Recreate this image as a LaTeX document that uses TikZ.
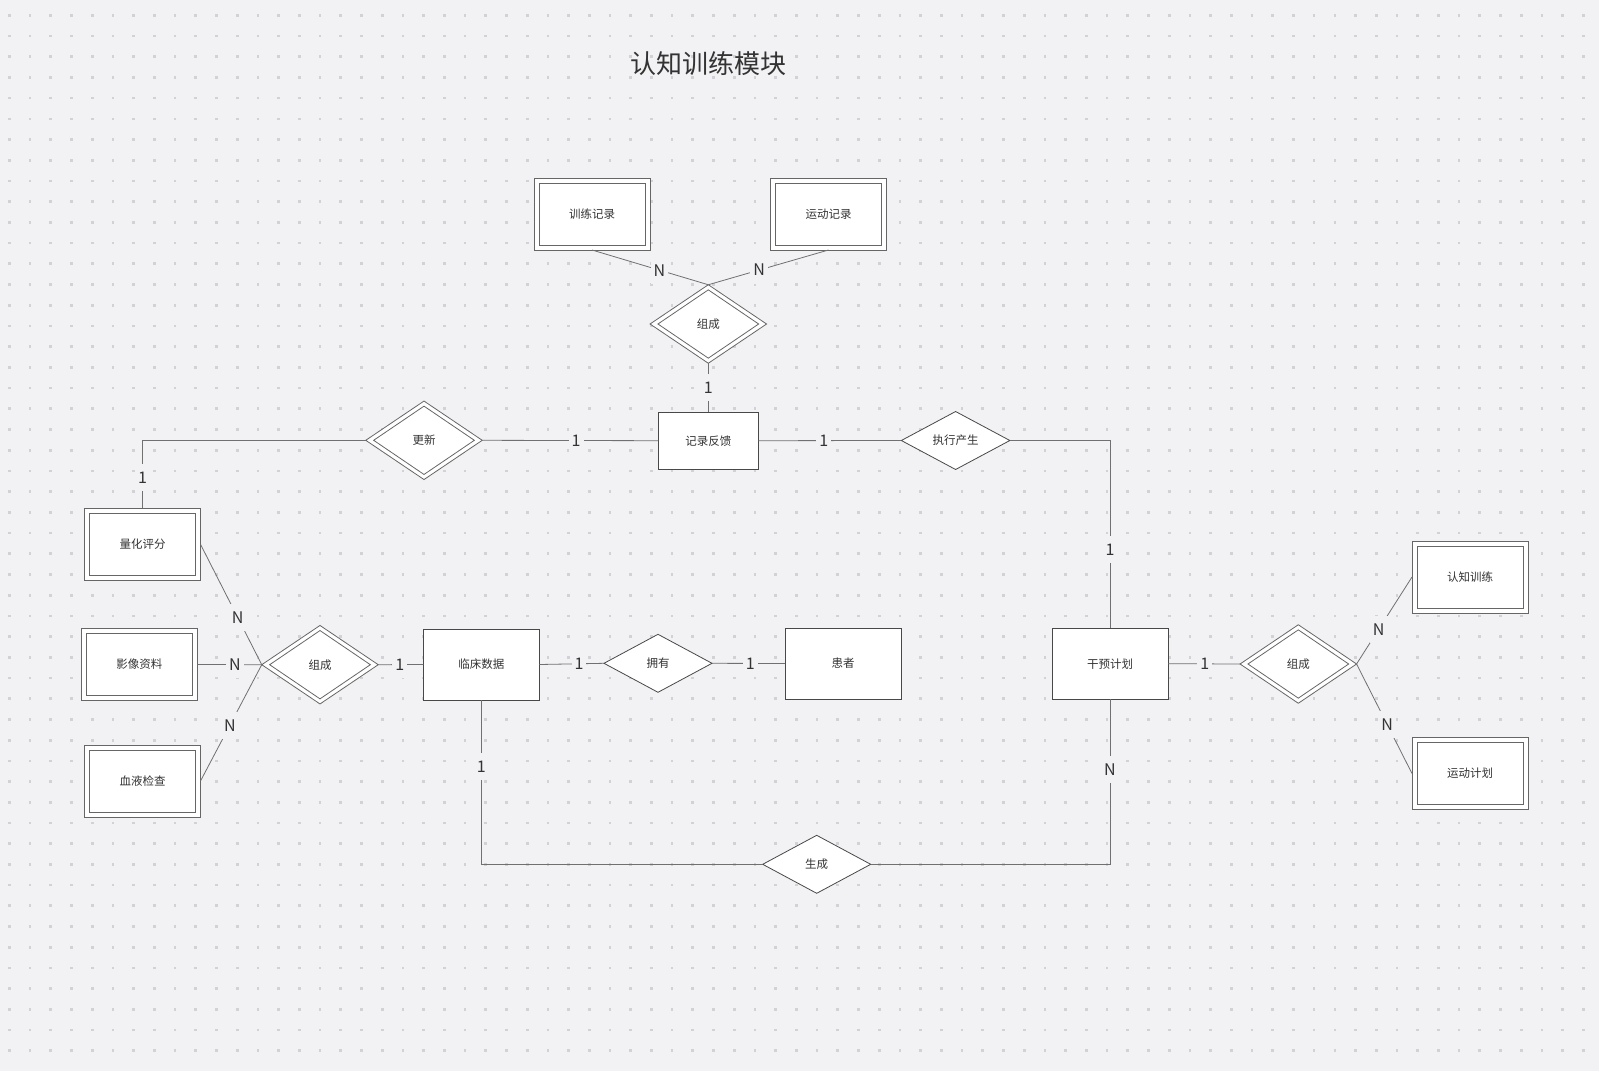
\documentclass[tikz,border=0pt]{standalone}
\usepackage{fontspec}
\setmainfont{Noto Sans CJK SC}
\usetikzlibrary{shapes.geometric}
\definecolor{bgc}{HTML}{F2F2F4}
\definecolor{dotc}{HTML}{D2D2D6}
\definecolor{linec}{HTML}{707070}
\definecolor{boxc}{HTML}{484848}
\definecolor{wboxc}{HTML}{666666}
\definecolor{txtc}{HTML}{333333}
\tikzset{
  nodefont/.style={font=\fontsize{11.5}{14}\selectfont, text=txtc},
  ent/.style={rectangle, draw=boxc, fill=white, line width=0.9pt, minimum width=116pt, minimum height=71pt, inner sep=0pt, outer sep=0pt, nodefont},
  wentout/.style={rectangle, draw=wboxc, fill=white, line width=0.8pt, minimum width=116pt, minimum height=72pt, inner sep=0pt, outer sep=0pt},
  wentin/.style={rectangle, draw=wboxc, fill=white, line width=0.8pt, minimum width=106pt, minimum height=62pt, inner sep=0pt, outer sep=0pt, nodefont},
  rel/.style={diamond, draw=boxc, fill=white, line width=0.8pt, minimum width=108pt, minimum height=58pt, inner sep=0pt, outer sep=0pt, aspect=1.8, nodefont},
  wrelout/.style={diamond, draw=wboxc, fill=white, line width=0.8pt, minimum width=116.5pt, minimum height=78.5pt, inner sep=0pt, outer sep=0pt, aspect=1.5},
  wrelin/.style={diamond, draw=wboxc, fill=white, line width=0.8pt, minimum width=100.7pt, minimum height=68.3pt, inner sep=0pt, outer sep=0pt, aspect=1.5, nodefont},
  conn/.style={draw=linec, line width=0.8pt},
  lab/.style={fill=bgc, inner xsep=3pt, inner ysep=0pt, minimum height=27pt, font=\fontsize{16}{18}\selectfont, text=txtc},
}
\begin{document}
\begin{tikzpicture}[x=1pt, y=-1pt]
\useasboundingbox (0,0) rectangle (1599,1071);
\fill[bgc] (0,0) rectangle (1599,1071);
\foreach \i in {0,...,76} {
  \foreach \j in {0,...,50} {
    \fill[dotc] (8.05+20.71*\i, 13.95+20.71*\j) rectangle +(2.7,2.7);
  }
}
% title
\node[font=\fontsize{26}{30}\selectfont, text=txtc] (title) at (708.3,64) {认知训练模块};

% entities and relationships
\node[wentout] (trec) at (592,214) {};
\node[wentin] (trec-in) at (592,214) {训练记录};
\node[wentout] (mrec) at (828.5,214) {};
\node[wentin] (mrec-in) at (828.5,214) {运动记录};
\node[wrelout] (comp1) at (708.3,324) {};
\node[wrelin] (comp1-in) at (708.3,324) {组成};
\node[ent, minimum width=100pt, minimum height=57pt] (fb) at (708.3,440.7) {记录反馈};
\node[wrelout] (upd) at (424,440.3) {};
\node[wrelin] (upd-in) at (424,440.3) {更新};
\node[rel, minimum width=108.5pt, minimum height=58pt] (exe) at (955.6,440.5) {执行产生};

\node[wentout] (qs) at (142.5,544.3) {};
\node[wentin] (qs-in) at (142.5,544.3) {量化评分};
\node[wentout] (img) at (139.3,664.5) {};
\node[wentin] (img-in) at (139.3,664.5) {影像资料};
\node[wentout] (blood) at (142.5,781) {};
\node[wentin] (blood-in) at (142.5,781) {血液检查};
\node[wrelout] (comp2) at (320,664.7) {};
\node[wrelin] (comp2-in) at (320,664.7) {组成};
\node[ent] (clin) at (481.3,664.5) {临床数据};
\node[rel] (own) at (658,663.3) {拥有};
\node[ent] (pat) at (843,663.5) {患者};
\node[ent] (plan) at (1110,663.7) {干预计划};
\node[wrelout] (comp3) at (1298.3,664) {};
\node[wrelin] (comp3-in) at (1298.3,664) {组成};
\node[wentout] (cog) at (1470,577) {};
\node[wentin] (cog-in) at (1470,577) {认知训练};
\node[wentout] (mplan) at (1470,773.5) {};
\node[wentin] (mplan-in) at (1470,773.5) {运动计划};
\node[rel] (gen) at (816.7,864.3) {生成};

% connectors
\path[conn] (trec.south) -- node[lab, pos=0.58] (l1) {N} (comp1.north);
\path[conn] (mrec.south) -- node[lab, pos=0.576] (l2) {N} (comp1.north);
\path[conn] (comp1.south) -- node[lab, pos=0.5] (l3) {1} (fb.north);
\path[conn] (upd.east) -- node[lab, pos=0.533] (l4) {1} (fb.west);
\path[conn] (upd.west) -| node[lab, pos=0.776] (l5) {1} (qs.north);
\path[conn] (fb.east) -- node[lab, pos=0.458] (l6) {1} (exe.west);
\path[conn] (exe.east) -| node[lab, pos=0.79] (l7) {1} (plan.north);
\path[conn] (qs.east) -- node[lab, pos=0.607] (l8) {N} (comp2.west);
\path[conn] (img.east) -- node[lab, pos=0.585] (l9) {N} (comp2.west);
\path[conn] (blood.east) -- node[lab, pos=0.48] (l10) {N} (comp2.west);
\path[conn] (comp2.east) -- node[lab, pos=0.48] (l11) {1} (clin.west);
\path[conn] (clin.east) -- node[lab, pos=0.613] (l12) {1} (own.west);
\path[conn] (own.east) -- node[lab, pos=0.526] (l13) {1} (pat.west);
\path[conn] (clin.south) |- node[lab, pos=0.203] (l14) {1} (gen.west);
\path[conn] (plan.south) |- node[lab, pos=0.214] (l15) {N} (gen.east);
\path[conn] (plan.east) -- node[lab, pos=0.51] (l16) {1} (comp3.west);
\path[conn] (comp3.east) -- node[lab, pos=0.4] (l17) {N} (cog.west);
\path[conn] (comp3.east) -- node[lab, pos=0.55] (l18) {N} (mplan.west);
\end{tikzpicture}
\end{document}
